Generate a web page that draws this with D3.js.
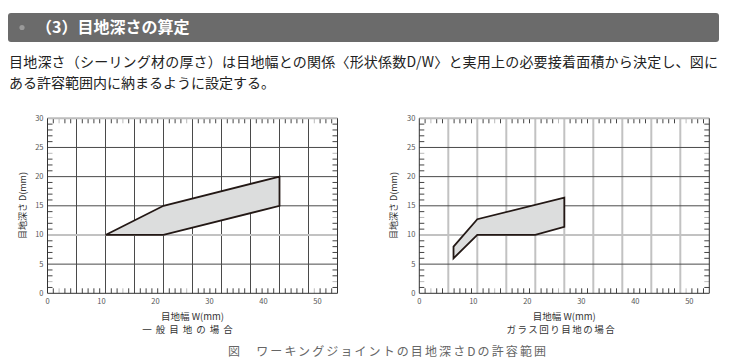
<!DOCTYPE html>
<html lang="ja">
<head>
<meta charset="utf-8">
<title>目地深さの算定</title>
<script src="https://d3js.org/d3.v7.min.js"></script>
<style>
  body { margin: 0; background: #fff; }
  svg text { font-family: "Noto Sans CJK JP", "Noto Sans", sans-serif; }
</style>
</head>
<body>
<div id="container"></div>
<script>
// --- data ---
var yTicks = [0, 5, 10, 15, 20, 25, 30];
var xTickLabels = [0, 10, 20, 30, 40, 50];

// general joint polygon (W, D)
var generalW = [10, 20, 40, 40, 20];
var generalD = [10, 15, 20, 15, 10];

// glass joint polygon (W, D)
var glassW = [5.9, 10, 25, 25, 20, 10, 5.9];
var glassD = [8, 12.7, 16.4, 11.4, 10, 10, 6];

var svg = d3.select("#container").append("svg")
    .attr("width", 731)
    .attr("height", 363);

// header bar
svg.append("rect")
    .attr("x", 8).attr("y", 13)
    .attr("width", 711).attr("height", 29)
    .attr("rx", 3)
    .attr("fill", "#6b6b6b");
svg.append("circle")
    .attr("cx", 22).attr("cy", 27.5).attr("r", 2.6)
    .attr("fill", "#9a9a9a");
svg.append("text")
    .attr("x", 36).attr("y", 33)
    .attr("fill", "#fff")
    .attr("font-size", 16)
    .attr("font-weight", "bold")
    .text("（3）目地深さの算定");

// body text
svg.append("text")
    .attr("x", 9).attr("y", 67)
    .attr("fill", "#222")
    .attr("font-size", 14)
    .attr("textLength", 709)
    .attr("lengthAdjust", "spacing")
    .text("目地深さ（シーリング材の厚さ）は目地幅との関係〈形状係数D/W〉と実用上の必要接着面積から決定し、図に");
svg.append("text")
    .attr("x", 9).attr("y", 88)
    .attr("fill", "#222")
    .attr("font-size", 14)
    .text("ある許容範囲内に納まるように設定する。");

function drawChart(left, polyW, polyD, caption, grayVerticals) {
    var x = d3.scaleLinear().domain([0, 50]).range([left, left + 290]);
    // the printed tick labels sit on a slightly different scale than the grid
    var xLabel = d3.scaleLinear().domain([0, 53.7]).range([left, left + 290]);
    var y = d3.scaleLinear().domain([0, 30]).range([293.3, 118.3]);
    var g = svg.append("g");

    // minor ticks, every 1mm, pointing inward
    var minor = d3.range(1, 50).filter(function(v) { return v % 5 !== 0; });
    var minorY = d3.range(1, 30).filter(function(v) { return v % 5 !== 0; });
    var tickCol = function(v) { return (v * 7) % 11 === 3 ? "#bbb" : "#444"; };
    g.selectAll(".mt").data(minor).enter().append("line")
        .attr("x1", function(d) { return x(d); }).attr("x2", function(d) { return x(d); })
        .attr("y1", y(30)).attr("y2", y(30) + 5)
        .attr("stroke", tickCol).attr("stroke-width", 1);
    g.selectAll(".mb").data(minor).enter().append("line")
        .attr("x1", function(d) { return x(d); }).attr("x2", function(d) { return x(d); })
        .attr("y1", y(0)).attr("y2", y(0) - 5)
        .attr("stroke", tickCol).attr("stroke-width", 1);
    g.selectAll(".ml").data(minorY).enter().append("line")
        .attr("x1", x(0)).attr("x2", x(0) + 5)
        .attr("y1", function(d) { return y(d); }).attr("y2", function(d) { return y(d); })
        .attr("stroke", tickCol).attr("stroke-width", 1);
    g.selectAll(".mr").data(minorY).enter().append("line")
        .attr("x1", x(50)).attr("x2", x(50) - 5)
        .attr("y1", function(d) { return y(d); }).attr("y2", function(d) { return y(d); })
        .attr("stroke", tickCol).attr("stroke-width", 1);

    // vertical grid
    g.selectAll(".vg").data(d3.range(5, 50, 5)).enter().append("line")
        .attr("x1", function(d) { return x(d); }).attr("x2", function(d) { return x(d); })
        .attr("y1", y(0)).attr("y2", y(30))
        .attr("stroke", grayVerticals ? "#c2c2c2" : "#4a4a4a")
        .attr("stroke-width", grayVerticals ? 2 : 1);

    // horizontal grid
    g.selectAll(".hg").data([5, 10, 15, 20, 25]).enter().append("line")
        .attr("x1", x(0)).attr("x2", x(50))
        .attr("y1", function(d) { return y(d); }).attr("y2", function(d) { return y(d); })
        .attr("stroke", function(d) { return d === 10 ? "#c2c2c2" : "#4a4a4a"; })
        .attr("stroke-width", function(d) { return d === 10 ? 2 : 1; });

    // frame
    g.append("line").attr("x1", x(0)).attr("x2", x(50)).attr("y1", y(30)).attr("y2", y(30))
        .attr("stroke", "#bdbdbd").attr("stroke-width", 2);
    g.append("line").attr("x1", x(0)).attr("x2", x(50)).attr("y1", y(0)).attr("y2", y(0))
        .attr("stroke", "#333").attr("stroke-width", 1);
    g.append("line").attr("x1", x(0)).attr("x2", x(0)).attr("y1", y(0)).attr("y2", y(30))
        .attr("stroke", "#333").attr("stroke-width", 1);
    g.append("line").attr("x1", x(50)).attr("x2", x(50)).attr("y1", y(0)).attr("y2", y(30))
        .attr("stroke", "#333").attr("stroke-width", 1);

    // allowable area
    var pts = polyW.map(function(w, i) { return [x(w), y(polyD[i])]; });
    g.append("path")
        .attr("d", d3.line()(pts) + "Z")
        .attr("fill", "#dcdddd")
        .attr("stroke", "#231815")
        .attr("stroke-width", 1.8)
        .attr("stroke-linejoin", "miter");

    // tick labels
    g.selectAll(".yl").data(yTicks).enter().append("text")
        .attr("x", x(0) - 4).attr("y", function(d) { return y(d) + 2.5; })
        .attr("text-anchor", "end")
        .attr("font-size", 7.5).attr("fill", "#555")
        .text(function(d) { return d; });
    g.selectAll(".xl").data(xTickLabels).enter().append("text")
        .attr("x", function(d) { return xLabel(d); }).attr("y", 304)
        .attr("text-anchor", "middle")
        .attr("font-size", 7.5).attr("fill", "#555")
        .text(function(d) { return d; });

    // axis titles
    g.append("text")
        .attr("transform", "translate(" + (left - 22) + ",205.5) rotate(-90)")
        .attr("text-anchor", "middle")
        .attr("font-size", 9).attr("fill", "#333")
        .text("目地深さ D(mm)");
    g.append("text")
        .attr("x", left + 145).attr("y", 320)
        .attr("text-anchor", "middle")
        .attr("font-size", 9.5).attr("fill", "#333")
        .text("目地幅 W(mm)");
    g.append("text")
        .attr("x", left + 142).attr("y", 333)
        .attr("text-anchor", "middle")
        .attr("font-size", 9.5).attr("fill", "#333")
        .attr("letter-spacing", caption.length < 8 ? 4 : 1.5)
        .text(caption);
}

drawChart(47.5, generalW, generalD, "一般目地の場合", false);
drawChart(419.3, glassW, glassD, "ガラス回り目地の場合", true);

// figure caption
svg.append("text")
    .attr("x", 228).attr("y", 356)
    .attr("font-size", 12)
    .attr("fill", "#666")
    .attr("textLength", 318)
    .attr("lengthAdjust", "spacing")
    .text("図　ワーキングジョイントの目地深さDの許容範囲");
</script>
</body>
</html>
